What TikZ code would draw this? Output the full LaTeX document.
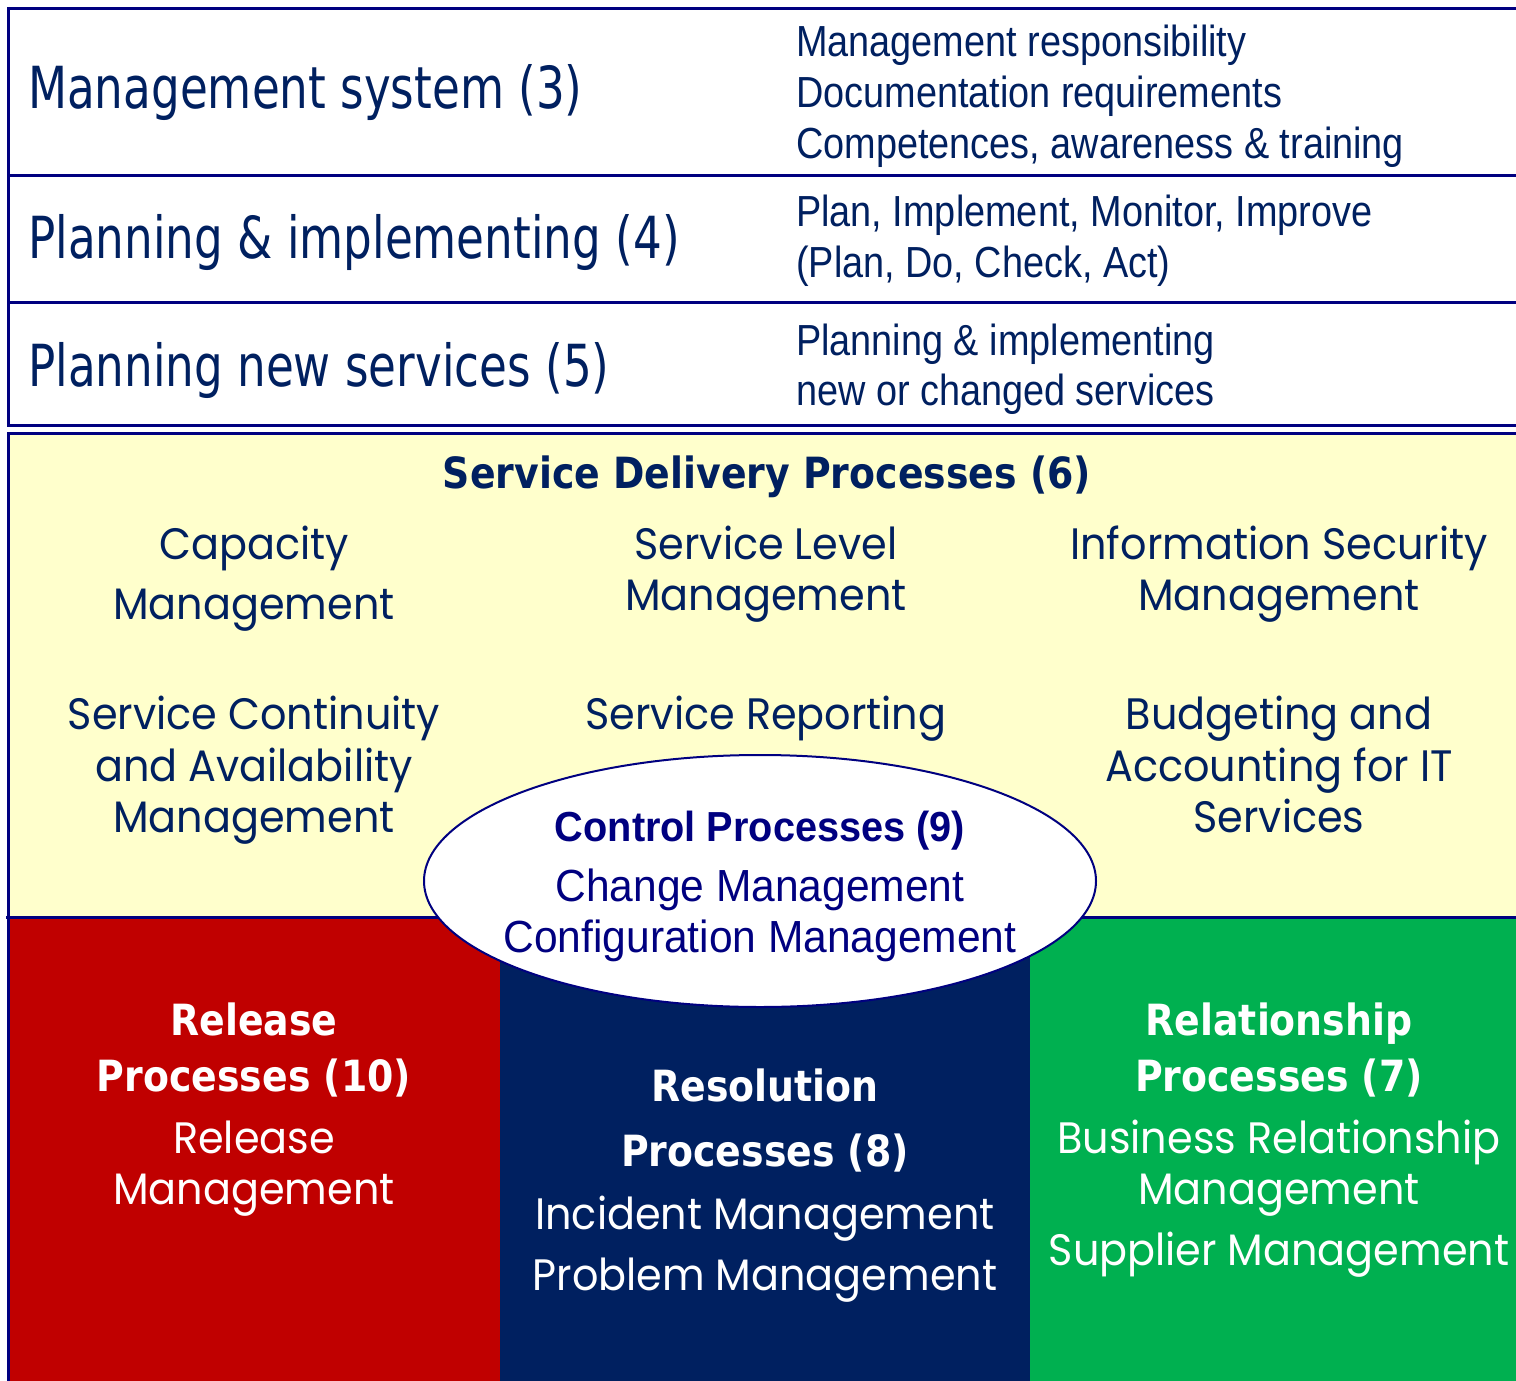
\documentclass[tikz,border=0pt]{standalone}
\usepackage{fontspec}
\usetikzlibrary{shapes.geometric}
\newfontfamily\fLab[FakeStretch=0.78]{DejaVu Sans}
\newfontfamily\fRight[FakeStretch=0.87]{Liberation Sans}
\newfontfamily\fGeo[FakeStretch=0.94]{Poppins}
\newfontfamily\fHead[FakeStretch=0.88]{DejaVu Sans}
\newfontfamily\fEll[FakeStretch=0.945]{Liberation Sans}
\definecolor{txt}{HTML}{002060}
\definecolor{linec}{HTML}{000080}
\definecolor{yel}{HTML}{FFFFCC}
\definecolor{redb}{HTML}{C00000}
\definecolor{navyb}{HTML}{002060}
\definecolor{greenb}{HTML}{00B050}
\tikzset{
  lab/.style={anchor=base west, inner sep=0pt, text=txt, font=\fLab\fontsize{58}{58}\selectfont},
  rt/.style={anchor=base west, inner sep=0pt, text=txt, font=\fRight\fontsize{43.5}{43.5}\selectfont},
  geo/.style={anchor=base, inner sep=0pt, text=txt, font=\fGeo\fontsize{44}{44}\selectfont},
  geow/.style={geo, text=white},
  head/.style={anchor=base, inner sep=0pt, text=txt, font=\fHead\bfseries\fontsize{43}{43}\selectfont},
  headw/.style={head, text=white},
  ell/.style={anchor=base, inner sep=0pt, text=linec, font=\fEll\fontsize{45}{45}\selectfont},
  ellb/.style={ell, font=\fEll\bfseries\fontsize{42}{42}\selectfont},
  rule/.style={draw=linec, line width=3pt},
  thinrule/.style={draw=linec, line width=2.5pt},
}
\begin{document}
\begin{tikzpicture}[x=1pt,y=-1pt]
\fill[white] (0,0) rectangle (1516,1381);
\useasboundingbox (0,0) rectangle (1516,1381);
% fills
\fill[yel] (8,433) rectangle (1516,917);
\fill[redb] (8,917) rectangle (500,1381);
\fill[navyb] (500,917) rectangle (1030,1381);
\fill[greenb] (1030,917) rectangle (1516,1381);
% lines
\draw[rule] (7,8.5) -- (1516,8.5);
\draw[rule] (8.5,7) -- (8.5,427);
\draw[thinrule] (8,175.5) -- (1516,175.5);
\draw[thinrule] (8,302.5) -- (1516,302.5);
\draw[rule] (7,425.5) -- (1516,425.5);
\draw[rule] (7,433.5) -- (1516,433.5);
\draw[rule] (8.5,432) -- (8.5,1381);
\draw[rule] (6,917) -- (1516,917);
% top panel
\node[lab] (ms) at (28,108) {Management system (3)};
\node[lab] (pi) at (28,258) {Planning \& implementing (4)};
\node[lab] (pn) at (28,386) {Planning new services (5)};
\node[rt] (r1) at (796,57) {Management responsibility};
\node[rt] (r2) at (796,107) {Documentation requirements};
\node[rt] (r3) at (796,158) {Competences, awareness \& training};
\node[rt] (r4) at (796,226) {Plan, Implement, Monitor, Improve};
\node[rt] (r5) at (796,277) {(Plan, Do, Check, Act)};
\node[rt] (r6) at (796,355) {Planning \& implementing};
\node[rt] (r7) at (796,405) {new or changed services};
% service delivery
\node[head] (sd) at (767,488) {Service Delivery Processes (6)};
\node[geo] (c1) at (254,559) {Capacity};
\node[geo] (c2) at (254,619) {Management};
\node[geo] (s1) at (766,559) {Service Level};
\node[geo] (s2) at (766,610) {Management};
\node[geo] (i1) at (1279,559) {Information Security};
\node[geo] (i2) at (1279,610) {Management};
\node[geo] (sc1) at (254,729) {Service Continuity};
\node[geo] (sc2) at (254,781) {and Availability};
\node[geo] (sc3) at (254,832) {Management};
\node[geo] (sr) at (766,729) {Service Reporting};
\node[geo] (b1) at (1279,729) {Budgeting and};
\node[geo] (b2) at (1279,781) {Accounting for IT};
\node[geo] (b3) at (1279,832) {Services};
% bottom blocks
\node[headw] (rl1) at (254,1035) {Release};
\node[headw] (rl2) at (254,1091) {Processes (10)};
\node[geow] (rl3) at (254,1153) {Release};
\node[geow] (rl4) at (254,1204) {Management};
\node[headw] (rs1) at (765,1101) {Resolution};
\node[headw] (rs2) at (765,1166) {Processes (8)};
\node[geow] (rs3) at (765,1229) {Incident Management};
\node[geow] (rs4) at (765,1290) {Problem Management};
\node[headw] (rp1) at (1279,1035) {Relationship};
\node[headw] (rp2) at (1279,1091) {Processes (7)};
\node[geow] (rp3) at (1279,1153) {Business Relationship};
\node[geow] (rp4) at (1279,1204) {Management};
\node[geow] (rp5) at (1279,1265) {Supplier Management};
% control ellipse
\node[ellipse, draw=linec, line width=2pt, fill=white, minimum width=672pt, minimum height=252pt, inner sep=0pt] (ctrl) at (760,881) {};
\node[ellb] (cp) at (760,841) {Control Processes (9)};
\node[ell] (cm) at (760,901) {Change Management};
\node[ell] (cfm) at (760,952) {Configuration Management};
\end{tikzpicture}
\end{document}
